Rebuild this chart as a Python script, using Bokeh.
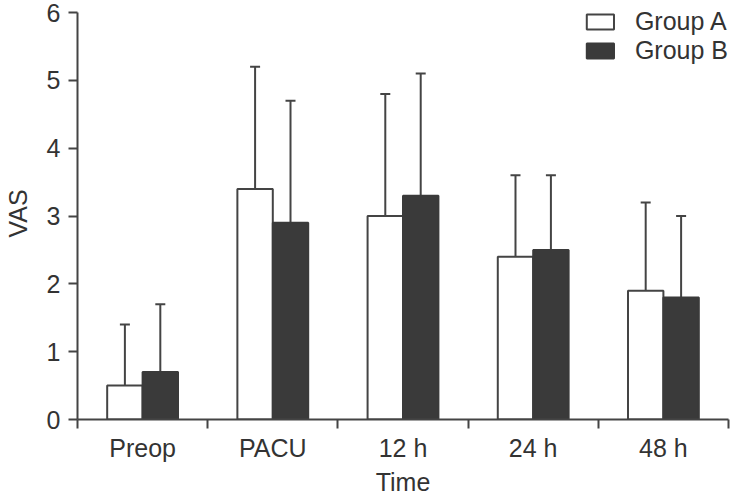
from bokeh.plotting import figure
from bokeh.models import (Range1d, FixedTicker, Whisker, TeeHead, ColumnDataSource,
                          Legend, LegendItem)
from bokeh.embed import file_html
from bokeh.resources import INLINE

categories = ["Preop", "PACU", "12 h", "24 h", "48 h"]
group_a_mean = [0.5, 3.4, 3.0, 2.4, 1.9]
group_a_upper = [1.4, 5.2, 4.8, 3.6, 3.2]
group_b_mean = [0.7, 2.9, 3.3, 2.5, 1.8]
group_b_upper = [1.7, 4.7, 5.1, 3.6, 3.0]
y_ticks = [0, 1, 2, 3, 4, 5, 6]

FONT = "Liberation Sans"
TXT = "#333333"
AX = "#444444"
DARK = "#3a3a3a"
BW = 0.272
FS = "25px"

n = len(categories)
centers = [i + 0.5 for i in range(n)]

src_a = ColumnDataSource(dict(x=[c - BW / 2 for c in centers], top=group_a_mean,
                              upper=group_a_upper))
src_b = ColumnDataSource(dict(x=[c + BW / 2 for c in centers], top=group_b_mean,
                              upper=group_b_upper))

p = figure(width=730, height=498, output_backend="svg", toolbar_location=None,
           x_range=Range1d(0, n), y_range=Range1d(0, 6.075),
           min_border_left=76, min_border_right=2, min_border_top=7, min_border_bottom=70)
p.outline_line_color = None
p.xgrid.grid_line_color = None
p.ygrid.grid_line_color = None
p.background_fill_color = "white"

ra = p.vbar(x="x", top="top", width=BW, bottom=0, source=src_a,
            fill_color="white", line_color=AX, line_width=2)
rb = p.vbar(x="x", top="top", width=BW, bottom=0, source=src_b,
            fill_color=DARK, line_color=DARK, line_width=2)

for src in (src_a, src_b):
    w = Whisker(base="x", lower="top", upper="upper", source=src, dimension="height",
                line_color=AX, line_width=2,
                upper_head=TeeHead(size=10, line_color=AX, line_width=2),
                lower_head=None)
    p.add_layout(w)

xt = FixedTicker(ticks=centers, minor_ticks=list(range(n + 1)))
p.xaxis.ticker = xt
p.xaxis.major_label_overrides = {c: lab for c, lab in zip(centers, categories)}
p.xaxis.major_tick_line_color = None
p.xaxis.minor_tick_in = 0
p.xaxis.minor_tick_out = 9
p.xaxis.minor_tick_line_color = AX
p.xaxis.minor_tick_line_width = 2
p.xaxis.axis_label = "Time"

p.yaxis.ticker = FixedTicker(ticks=y_ticks, minor_ticks=[])
p.yaxis.bounds = (0, 6)
p.yaxis.major_tick_in = 0
p.yaxis.major_tick_out = 9
p.yaxis.major_tick_line_color = AX
p.yaxis.major_tick_line_width = 2
p.yaxis.axis_label = "VAS"

for ax in (p.xaxis, p.yaxis):
    ax.axis_line_color = AX
    ax.axis_line_width = 2
    ax.major_label_text_font = FONT
    ax.major_label_text_font_size = FS
    ax.major_label_text_color = TXT
    ax.axis_label_text_font = FONT
    ax.axis_label_text_font_size = FS
    ax.axis_label_text_font_style = "normal"
    ax.axis_label_text_color = TXT

p.xaxis.major_label_standoff = 5
p.xaxis.axis_label_standoff = 3
p.yaxis.major_label_standoff = 8
p.yaxis.axis_label_standoff = 12

legend = Legend(items=[LegendItem(label="Group A", renderers=[ra]),
                       LegendItem(label="Group B", renderers=[rb])],
                location="top_right")
legend.glyph_width = 34
legend.glyph_height = 19
legend.label_standoff = 18
legend.spacing = 0
legend.padding = 0
legend.margin = 0
legend.border_line_color = None
legend.background_fill_alpha = 0
legend.label_text_font = FONT
legend.label_text_font_size = FS
legend.label_text_color = TXT
legend.label_height = 19
p.add_layout(legend)

open("out.html", "w").write(file_html(p, INLINE))
